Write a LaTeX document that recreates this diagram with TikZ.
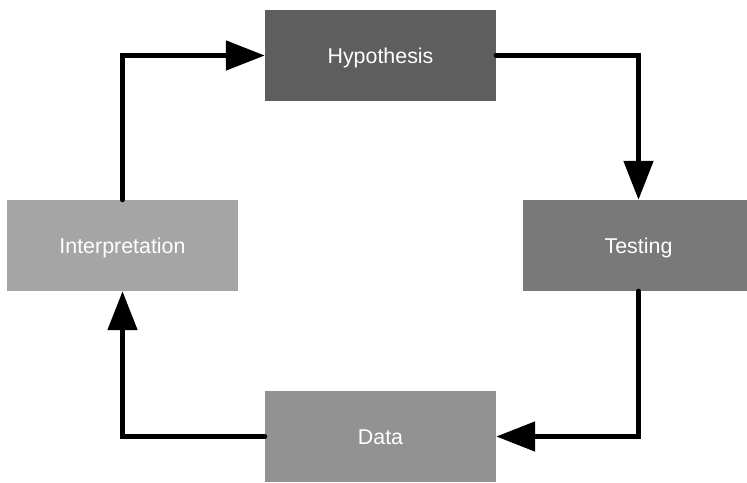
\documentclass[tikz,border=0pt]{standalone}
\usepackage{fontspec}
\setmainfont{Liberation Sans}
\usetikzlibrary{arrows.meta}
\definecolor{hypgray}{HTML}{5E5E5E}
\definecolor{testgray}{HTML}{797979}
\definecolor{datagray}{HTML}{929292}
\definecolor{interpgray}{HTML}{A5A5A5}
\begin{document}
\begin{tikzpicture}[x=1pt,y=-1pt,
  stage/.style={minimum width=231pt,minimum height=91pt,inner sep=0pt,text height=15.6pt,text depth=0pt,text=white,font=\fontsize{21.4}{25}\selectfont},
  flow/.style={line width=5pt,line cap=round,-{Triangle[length=39pt,width=29pt]}}]
\useasboundingbox (0,0) rectangle (747,482);
\clip (0,0) rectangle (747,482);
\node[stage,fill=hypgray] (hyp) at (380.5,55.5) {Hypothesis};
\node[stage,fill=testgray] (test) at (638.5,245.5) {Testing};
\node[stage,fill=datagray] (data) at (380.5,436.5) {Data};
\node[stage,fill=interpgray] (interp) at (122.5,245.5) {Interpretation};
\draw[flow] (interp.north) |- (hyp.west);
\draw[flow] (hyp.east) -| (test.north);
\draw[flow] (test.south) |- (data.east);
\draw[flow] (data.west) -| (interp.south);
\end{tikzpicture}
\end{document}
